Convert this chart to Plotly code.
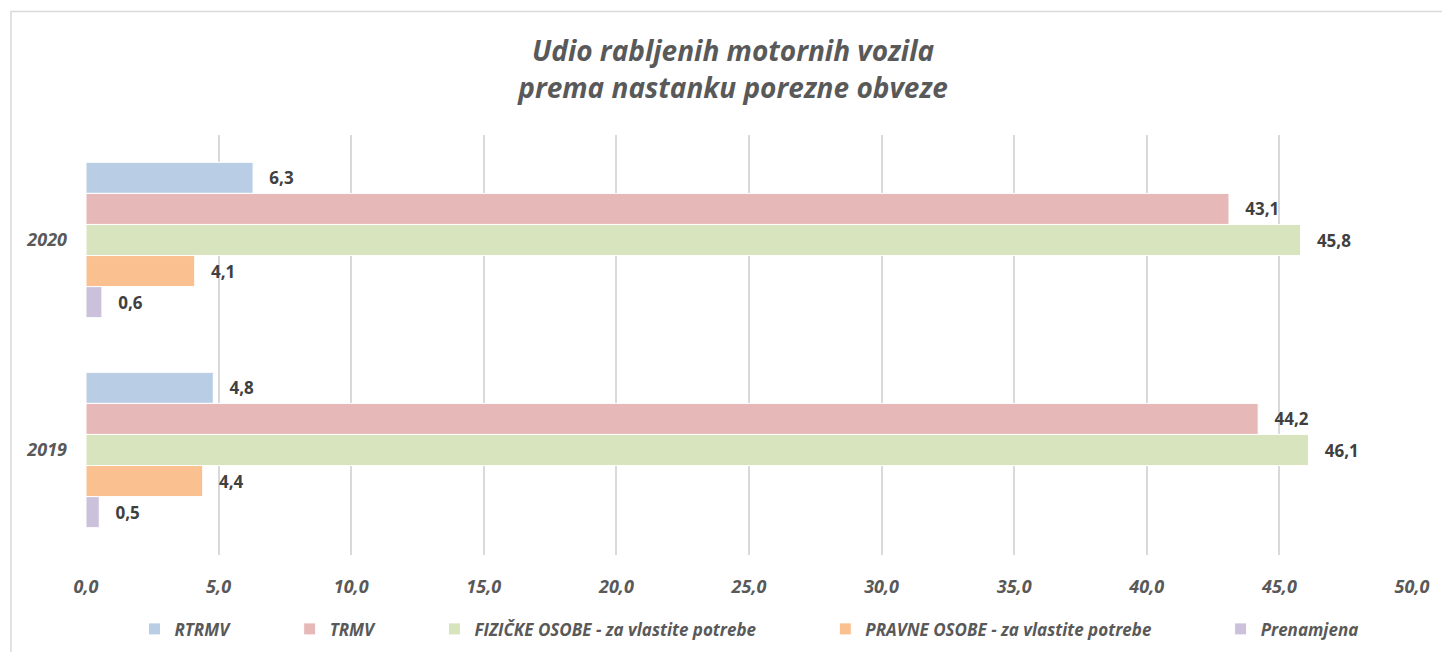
import plotly.graph_objects as go

# years, top to bottom
years = ["2020", "2019"]

series_names = [
    "RTRMV",
    "TRMV",
    "FIZIČKE OSOBE - za vlastite potrebe",
    "PRAVNE OSOBE - za vlastite potrebe",
    "Prenamjena",
]
rtrmv = [6.3, 4.8]
trmv = [43.1, 44.2]
fizicke = [45.8, 46.1]
pravne = [4.1, 4.4]
prenamjena = [0.6, 0.5]

colors = ["#B9CDE5", "#E6B9B8", "#D7E4BD", "#FAC090", "#CCC1DA"]

x_ticks = [0, 5, 10, 15, 20, 25, 30, 35, 40, 45, 50]

FONT = "Open Sans"
GREY = "#595959"
# extra room after each legend entry (last one needs none)
pads = [
    "\u2003\u2003\u2003\u00a0",
    "\u2003\u2003\u2003\u00a0",
    "\u2003\u2003\u2003\u00a0\u00a0\u00a0",
    "\u2003\u2003\u2003\u00a0\u00a0\u00a0",
    "",
]

fig = go.Figure()
series = [rtrmv, trmv, fizicke, pravne, prenamjena]
for name, pad, vals, col in zip(series_names, pads, series, colors):
    fig.add_trace(go.Bar(
        name=name + pad,
        x=vals,
        y=years,
        orientation="h",
        marker=dict(color=col, line=dict(color="white", width=1)),
        texttemplate="\u00a0\u00a0\u00a0%{x:.1f}",
        textposition="outside",
        textfont=dict(family=FONT, size=17, color="#404040", weight="bold"),
        cliponaxis=False,
    ))

# page body has an 8px margin, so the plot is nudged up/left by 8px
fig.update_layout(
    width=1450,
    height=652,
    separators=",.",
    barmode="group",
    bargap=0.26,
    bargroupgap=0,
    plot_bgcolor="white",
    paper_bgcolor="white",
    margin=dict(l=78, r=46, t=127, b=105, autoexpand=False),
    title=dict(
        text="<i><b>Udio rabljenih motornih vozila<br>prema nastanku porezne obveze</b></i>",
        x=0.5, xanchor="center",
        y=0.918, yanchor="top",
        font=dict(family=FONT, size=28, color=GREY),
    ),
    xaxis=dict(
        range=[0, 50],
        tickvals=x_ticks,
        tickformat=".1f",
        showgrid=True,
        gridcolor="#D9D9D9",
        gridwidth=1.5,
        zeroline=False,
        showline=False,
        ticks="",
        automargin=False,
        ticklabelstandoff=19,
        tickfont=dict(family=FONT, size=18, color=GREY, weight="bold", style="italic"),
    ),
    yaxis=dict(
        autorange="reversed",
        showgrid=False,
        zeroline=False,
        showline=False,
        ticks="",
        automargin=False,
        ticklabelstandoff=18,
        tickfont=dict(family=FONT, size=18, color=GREY, weight="bold", style="italic"),
    ),
    legend=dict(
        orientation="h",
        x=0.5, xanchor="center",
        y=-0.177, yanchor="middle",
        font=dict(family=FONT, size=17, color=GREY, weight="bold", style="italic"),
        itemwidth=30,
    ),
    showlegend=True,
)

# light chart border like the source
fig.add_shape(
    type="rect", xref="paper", yref="paper",
    x0=-0.0566, x1=1.04, y0=-0.3, y1=1.294,
    line=dict(color="#D9D9D9", width=1.5),
    fillcolor="rgba(0,0,0,0)",
    layer="below",
)

fig.write_html("out.html")
